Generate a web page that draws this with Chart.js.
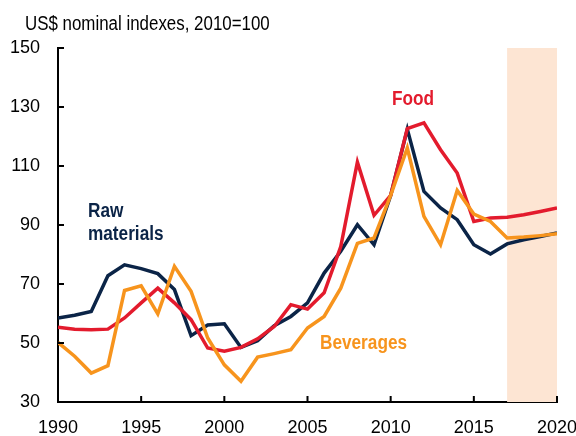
<!DOCTYPE html>
<html lang="en">
<head>
  <meta charset="UTF-8">
  <title>Commodity price indexes</title>
  <script src="https://cdn.jsdelivr.net/npm/chart.js"></script>
  <style>
    body {
      margin: 0;
      padding: 0;
      background-color: #fff;
    }
    #wrap {
      width: 576px;
      height: 436px;
    }
  </style>
</head>
<body>
  <div id="wrap"><canvas id="lineChart" width="576" height="436"></canvas></div>

  <script>
    // data
    const years = [];
    for (let y = 1990; y <= 2020; y++) years.push(y);

    const food = [55.3, 54.7, 54.5, 54.7, 58.5, 63.6, 68.6, 63.6, 57.9, 48.3,
                  47.2, 48.5, 51.4, 55.6, 63.0, 61.5, 67.0, 82.7, 111.3, 93.3,
                  100, 122.7, 124.6, 115.5, 107.6, 91.2, 92.4, 92.6, 93.5, 94.6, 95.8];
    const rawMaterials = [58.5, 59.4, 60.7, 72.8, 76.5, 75.2, 73.5, 68.1, 52.5, 56.1,
                  56.5, 48.5, 50.8, 55.9, 59.0, 63.6, 73.7, 81.1, 90.1, 83.3,
                  100, 122.5, 101.4, 95.8, 91.8, 83.3, 80.2, 83.6, 85.0, 86.1, 87.3];
    const beverages = [50.2, 45.5, 39.8, 42.3, 67.8, 69.4, 59.9, 76.0, 67.5, 51.7,
                  42.6, 37.0, 45.2, 46.4, 47.7, 55.1, 59.0, 68.6, 83.8, 85.6,
                  100, 116.1, 92.9, 83.3, 101.7, 93.7, 91.2, 85.6, 85.9, 86.4, 87.0];

    const yTicks = [30, 50, 70, 90, 110, 130, 150];
    const xTicks = [1990, 1995, 2000, 2005, 2010, 2015, 2020];
    const forecastStart = 2017;

    const tickFont = { family: 'Arial, "Liberation Sans", sans-serif', size: 18 };

    // narrow-looking text: squeeze horizontally
    function narrowText(ctx, text, x, y, align, squeeze) {
      ctx.save();
      ctx.translate(x, y);
      ctx.scale(squeeze, 1);
      ctx.textAlign = align;
      ctx.fillText(text, 0, 0);
      ctx.restore();
    }

    // shaded forecast band, title, inner tick marks and series labels
    const decorPlugin = {
      id: 'decor',
      beforeDatasetsDraw(chart) {
        const { ctx, chartArea, scales } = chart;
        const x0 = scales.x.getPixelForValue(forecastStart);
        const x1 = scales.x.getPixelForValue(2020);
        ctx.save();
        ctx.fillStyle = '#fde5d3';
        ctx.fillRect(x0, chartArea.top, x1 - x0, chartArea.bottom - chartArea.top);
        ctx.restore();
      },
      afterDraw(chart) {
        const { ctx, chartArea, scales } = chart;
        ctx.save();
        ctx.strokeStyle = '#000';
        ctx.lineWidth = 2;
        ctx.beginPath();
        yTicks.forEach(v => {
          const y = scales.y.getPixelForValue(v);
          ctx.moveTo(chartArea.left, y);
          ctx.lineTo(chartArea.left + 6, y);
        });
        xTicks.forEach(v => {
          const x = scales.x.getPixelForValue(v);
          ctx.moveTo(x, chartArea.bottom);
          ctx.lineTo(x, chartArea.bottom - 6);
        });
        ctx.stroke();

        ctx.textBaseline = 'middle';
        ctx.fillStyle = '#000';
        ctx.font = '20px Arial, "Liberation Sans", sans-serif';
        narrowText(ctx, 'US$ nominal indexes, 2010=100', 25, 24, 'left', 0.845);

        ctx.font = 'bold 20px Arial, "Liberation Sans", sans-serif';
        ctx.fillStyle = '#e31b2d';
        narrowText(ctx, 'Food', 413, 99, 'center', 0.86);
        ctx.fillStyle = '#0b2447';
        narrowText(ctx, 'Raw', 88, 211, 'left', 0.86);
        narrowText(ctx, 'materials', 88, 234, 'left', 0.86);
        ctx.fillStyle = '#f7941d';
        narrowText(ctx, 'Beverages', 320, 343, 'left', 0.86);
        ctx.restore();
      }
    };

    const ctx = document.getElementById('lineChart').getContext('2d');
    const lineChart = new Chart(ctx, {
      type: 'line',
      data: {
        labels: years,
        datasets: [
          { label: 'Beverages', data: beverages, borderColor: '#f7941d' },
          { label: 'Food', data: food, borderColor: '#e31b2d' },
          { label: 'Raw materials', data: rawMaterials, borderColor: '#0b2447' }
        ].map(d => Object.assign(d, {
          data: d.data.map((v, i) => ({ x: years[i], y: v })),
          borderWidth: 3.5,
          pointRadius: 0,
          tension: 0,
          fill: false
        }))
      },
      options: {
        responsive: false,
        animation: false,
        layout: { padding: { top: 48, right: 0, left: 10, bottom: 0 } },
        plugins: {
          legend: { display: false },
          tooltip: { enabled: false }
        },
        scales: {
          x: {
            type: 'linear',
            min: 1990,
            max: 2020,
            afterFit: scale => {
              scale.height = 34;
              scale.paddingLeft = 0;
              scale.paddingRight = 19;
            },
            grid: { display: false, drawTicks: false },
            border: { display: true, color: '#000', width: 2 },
            ticks: {
              stepSize: 5,
              color: '#000',
              font: tickFont,
              padding: 15,
              maxRotation: 0,
              callback: v => String(v)
            }
          },
          y: {
            min: 30,
            max: 150,
            afterFit: scale => { scale.width = 48; },
            grid: { display: false, drawTicks: false },
            border: { display: true, color: '#000', width: 2 },
            ticks: {
              stepSize: 20,
              color: '#000',
              font: tickFont,
              padding: 18
            }
          }
        }
      },
      plugins: [decorPlugin]
    });
  </script>
</body>
</html>
